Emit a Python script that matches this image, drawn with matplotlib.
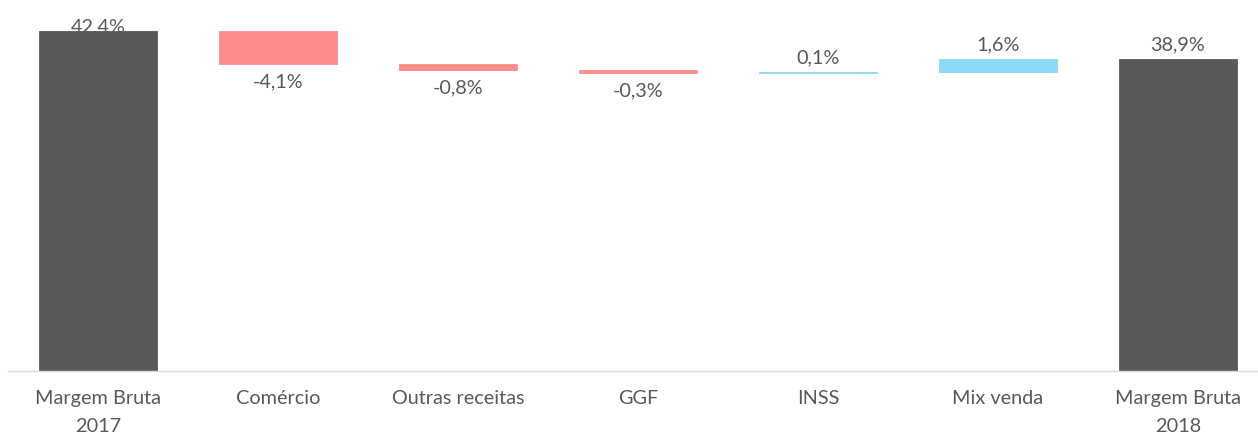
# Waterfall: Margem Bruta 2017 -> 2018
import numpy as np
import matplotlib.pyplot as plt

categories = ["Margem Bruta\n2017", "Comércio", "Outras receitas", "GGF",
              "INSS", "Mix venda", "Margem Bruta\n2018"]
values = [42.4, -4.1, -0.8, -0.3, 0.1, 1.6, 38.9]
is_total = [True, False, False, False, False, False, True]

DARK = "#595959"
RED = "#FF8B8B"
BLUE = "#8AD9F5"
TEXT = "#595959"

plt.rcParams["font.family"] = ["Lato", "DejaVu Sans"]

def fmt(v):
    return f"{v:.1f}%".replace(".", ",")

def main():
    # compute floating bars
    bottoms, heights, colors = [], [], []
    running = 0.0
    for v, tot in zip(values, is_total):
        if tot:
            bottoms.append(0.0)
            heights.append(v)
            colors.append(DARK)
            running = v
        else:
            start = running
            running = start + v
            bottoms.append(min(start, running))
            heights.append(abs(v))
            colors.append(RED if v < 0 else BLUE)

    fig = plt.figure(figsize=(12.58, 4.39), dpi=100)
    ax = fig.add_axes([8 / 1258, (439 - 372) / 439, 1250 / 1258, 372 / 439])
    x = np.arange(len(categories))
    ax.bar(x, heights, bottom=bottoms, width=0.655, color=colors,
           edgecolor=colors, linewidth=0.6)

    ymax = 46.4
    fs = 14.3
    for xi, v, b, h, tot in zip(x, values, bottoms, heights, is_total):
        if tot or v > 0:
            y = min(b + h + 1.9, ymax - 3.4)
            ax.text(xi, y, fmt(v), ha="center", va="center",
                    fontsize=fs, color=TEXT)
        else:
            ax.text(xi, b - 2.1, fmt(v), ha="center", va="center",
                    fontsize=fs, color=TEXT)

    ax.set_xlim(-0.5, -0.5 + 1250 / 180)
    ax.set_ylim(0, ymax)
    ax.set_xticks(x)
    ax.set_xticklabels(categories, fontsize=fs, color=TEXT, linespacing=1.75)
    ax.tick_params(axis="x", length=0, pad=13)
    ax.set_yticks([])
    for side in ["top", "right", "left"]:
        ax.spines[side].set_visible(False)
    ax.spines["bottom"].set_color("#D9D9D9")
    ax.spines["bottom"].set_linewidth(1.0)

    fig.savefig("out.png", dpi=100)
    plt.close(fig)

if __name__ == "__main__":
    main()
